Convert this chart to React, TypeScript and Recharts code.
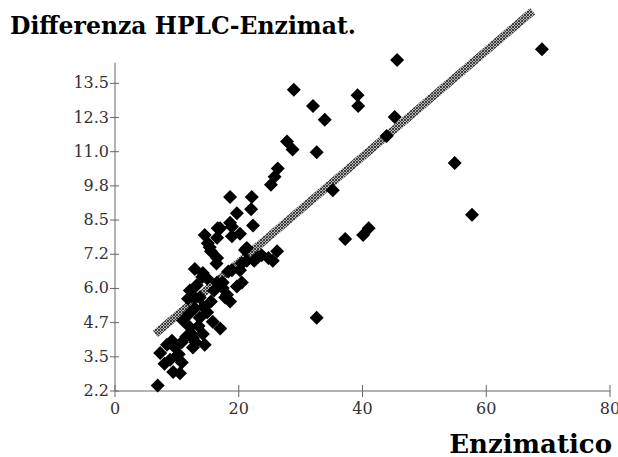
import React from "react";
import { ScatterChart, Scatter, XAxis, YAxis, ReferenceLine } from "recharts";

// Enzimatico (x) and HPLC-Enzimatic difference (y)
const enzimatico = [
  69.0, 45.6, 45.2, 43.9, 54.9, 57.7, 40.1, 41.0, 39.2, 39.3,
  28.9, 32.0, 33.9, 27.8, 28.7, 32.6, 26.3, 25.8, 25.2, 35.2,
  37.2, 32.6, 22.1, 22.0, 22.3, 18.6, 19.7, 18.6, 16.6, 20.2,
  18.9, 14.5, 15.0, 15.5, 16.4, 21.0, 21.3, 20.2, 23.7, 26.2,
  25.5, 24.8, 12.9, 14.2, 18.9, 16.5, 19.7, 12.1, 12.9, 18.1,
  11.8, 13.7, 12.9, 11.0, 12.1, 13.7, 14.9, 15.8, 17.0, 12.6,
  14.2, 14.5, 12.6, 8.4, 7.3, 9.7, 8.9, 10.8, 9.4, 10.5,
  6.9, 17.4, 17.8, 18.6, 20.5, 20.5, 16.5, 14.9, 10.0, 8.0,
  13.2, 15.5, 13.5, 11.5, 16.0, 22.5, 17.0, 18.9, 15.3, 16.5,
  21.3, 23.1, 18.3, 17.4, 14.1, 12.0, 12.4, 13.0, 14.3, 10.3,
  9.2, 10.8,
];
const differenza = [
  14.8, 14.4, 12.3, 11.6, 10.6, 8.7, 7.95, 8.2, 13.1, 12.7,
  13.3, 12.7, 12.2, 11.4, 11.1, 11.0, 10.4, 10.1, 9.8, 9.6,
  7.8, 4.9, 9.35, 8.9, 8.3, 9.35, 8.75, 8.4, 8.2, 8.0,
  7.9, 7.95, 7.65, 7.35, 6.9, 7.4, 7.0, 6.65, 7.2, 7.35,
  7.0, 7.1, 6.7, 6.55, 6.65, 6.2, 6.05, 5.9, 5.65, 5.75,
  5.6, 5.65, 5.25, 4.8, 4.55, 4.9, 5.1, 4.75, 4.5, 4.15,
  4.3, 3.9, 3.8, 3.9, 3.6, 3.8, 3.35, 3.25, 2.9, 2.85,
  2.4, 6.0, 5.65, 5.5, 6.2, 6.9, 7.85, 6.35, 3.5, 3.2,
  6.1, 5.5, 4.6, 4.2, 5.9, 7.0, 8.2, 8.25, 7.5, 7.1,
  7.47, 7.14, 6.6, 6.2, 6.4, 5.05, 4.3, 4.0, 5.3, 3.55,
  4.05, 4.0,
];

// regression band end points
const fitX = [6.5, 67.5];
const fitY = [4.3, 16.2];

const xTicks = [0, 20, 40, 60, 80];
const yTicks = [2.2, 3.46, 4.72, 5.98, 7.24, 8.5, 9.76, 11.02, 12.28, 13.54];
// the drawn y axis stops here, points above it are still shown
const yAxisTop = 14.3;

const points = enzimatico.map((x, i) => ({ x, y: differenza[i] }));

const serif = "'DejaVu Serif', serif";

const Diamond = (props: any) => {
  const { cx, cy } = props;
  const r = 7;
  return (
    <polygon
      points={`${cx},${cy - r} ${cx + r},${cy} ${cx},${cy + r} ${cx - r},${cy}`}
      fill="#000"
    />
  );
};

const YTick = (props: any) => {
  const { x, y, payload } = props;
  return (
    <g>
      <line x1={x - 5} x2={x + 4} y1={y} y2={y} stroke="#666" />
      <text x={x - 6} y={y} dy={5} textAnchor="end" fontSize={16} fontFamily={serif} fill="#333">
        {payload.value.toFixed(1)}
      </text>
    </g>
  );
};

const XTick = (props: any) => {
  const { x, y, payload } = props;
  return (
    <g>
      <line x1={x} x2={x} y1={y - 6} y2={y + 6} stroke="#666" />
      <text x={x} y={y + 23} textAnchor="middle" fontSize={16} fontFamily={serif} fill="#333">
        {payload.value}
      </text>
    </g>
  );
};

export default function App() {
  return (
    <div style={{ position: "absolute", left: 0, top: 0, width: 618, height: 457, background: "#fff" }}>
      <ScatterChart width={618} height={457} margin={{ top: 3, right: 8, left: 0, bottom: 0 }}>
        <defs>
          <pattern id="hatch" width="3" height="3" patternUnits="userSpaceOnUse">
            <rect width="3" height="3" fill="#b4b4b4" />
            <path d="M0,0 L3,3 M3,0 L0,3" stroke="#333" strokeWidth="0.9" />
          </pattern>
        </defs>
        <XAxis
          type="number"
          dataKey="x"
          domain={[0, 80]}
          ticks={xTicks}
          height={66}
          tickSize={0}
          tickMargin={0}
          tick={<XTick />}
          axisLine={{ stroke: "#666" }}
          tickLine={false}
        />
        <YAxis
          type="number"
          dataKey="y"
          domain={[2.2, 16.5]}
          ticks={yTicks}
          width={115}
          tickSize={0}
          tickMargin={0}
          tick={<YTick />}
          axisLine={false}
          tickLine={false}
          interval={0}
        />
        <ReferenceLine
          segment={[
            { x: 0, y: yTicks[0] },
            { x: 0, y: yAxisTop },
          ]}
          stroke="#666"
          strokeWidth={1}
        />
        <ReferenceLine
          segment={[
            { x: fitX[0], y: fitY[0] },
            { x: fitX[1], y: fitY[1] },
          ]}
          stroke="url(#hatch)"
          strokeWidth={8}
          ifOverflow="visible"
        />
        <Scatter data={points} shape={<Diamond />} isAnimationActive={false} />
      </ScatterChart>
      <div
        style={{
          position: "absolute",
          left: 10,
          top: 15,
          fontFamily: serif,
          fontWeight: "bold",
          fontSize: 23.5,
          lineHeight: 1,
          color: "#000",
          whiteSpace: "nowrap",
        }}
      >
        Differenza HPLC-Enzimat.
      </div>
      <div
        style={{
          position: "absolute",
          right: 6,
          top: 431,
          fontFamily: serif,
          fontWeight: "bold",
          fontSize: 26,
          lineHeight: 1,
          color: "#000",
          whiteSpace: "nowrap",
        }}
      >
        Enzimatico
      </div>
    </div>
  );
}
